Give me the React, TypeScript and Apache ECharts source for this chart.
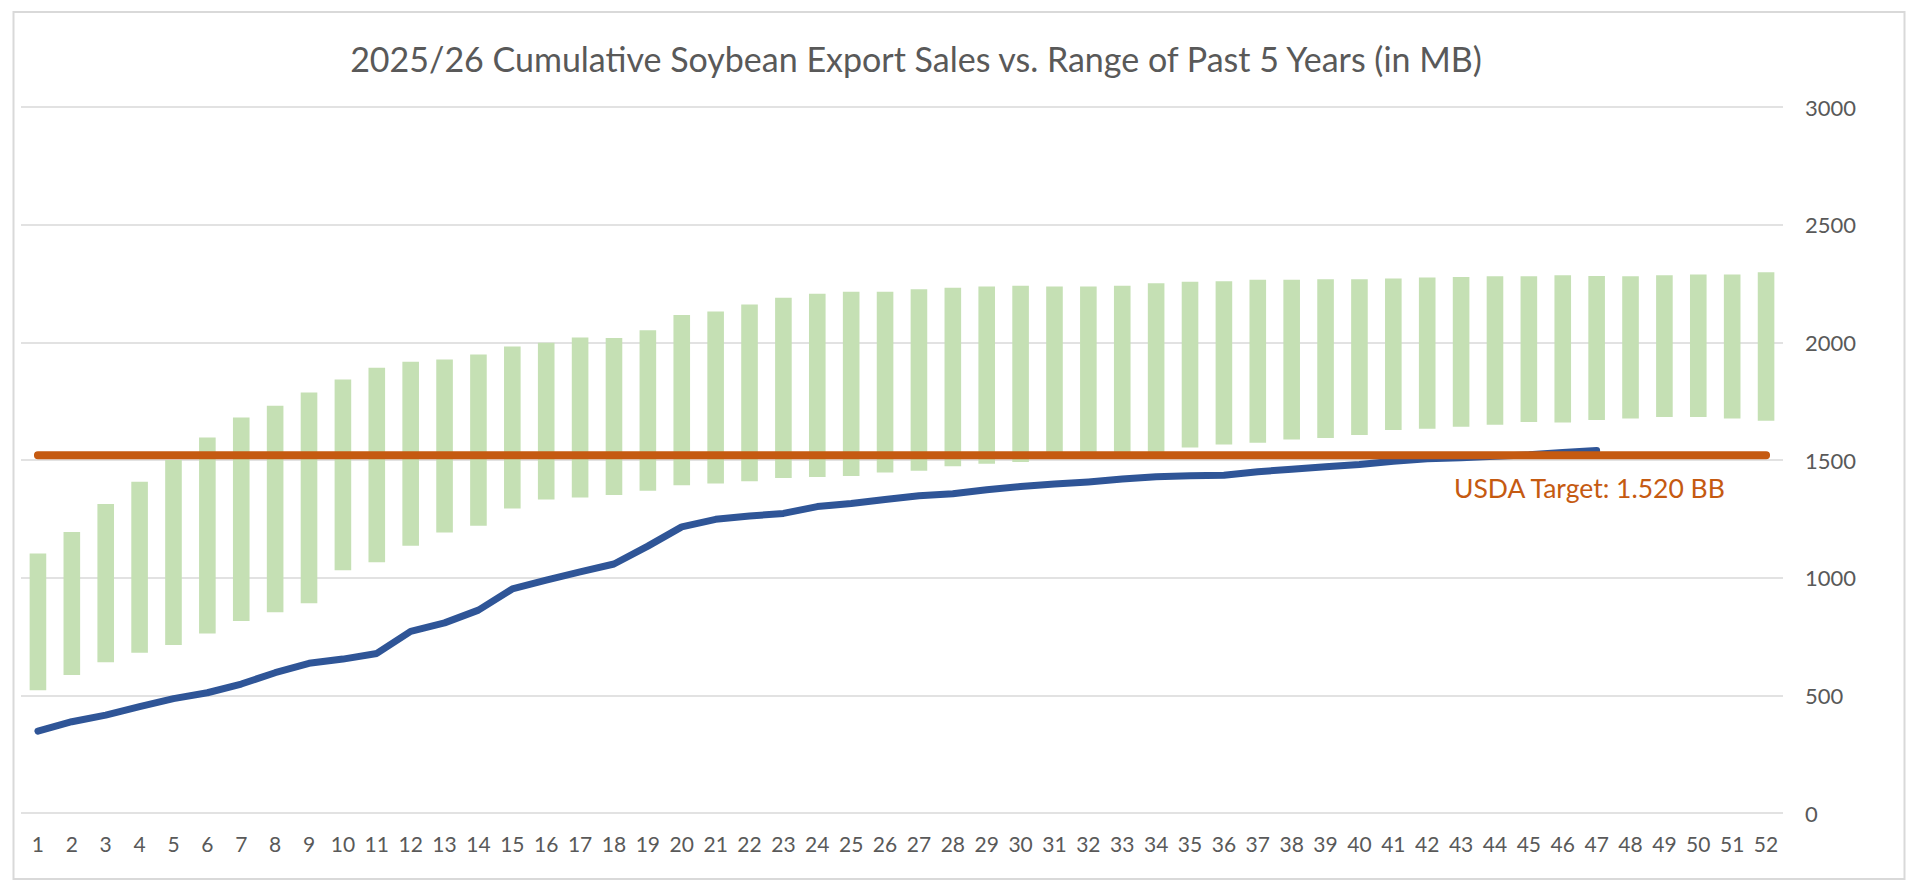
import React, { useEffect, useRef } from "react";
import * as echarts from "echarts";

const weeks: string[] = Array.from({ length: 52 }, (_, i) => String(i + 1));

const rangeLow: number[] = [
  522, 586, 641, 681, 714, 763, 816, 853, 891, 1032,
  1066, 1136, 1192, 1221, 1294, 1332, 1341, 1351, 1369, 1393,
  1400, 1410, 1424, 1428, 1432, 1447, 1454, 1473, 1484, 1491,
  1505, 1510, 1515, 1525, 1553, 1566, 1573, 1587, 1594, 1606,
  1627, 1633, 1641, 1650, 1662, 1659, 1670, 1676, 1683, 1683,
  1676, 1667,
];

const rangeHigh: number[] = [
  1103, 1194, 1313, 1408, 1500, 1596, 1681, 1730, 1787, 1842,
  1892, 1917, 1927, 1948, 1982, 1998, 2021, 2018, 2051, 2116,
  2131, 2161, 2189, 2206, 2215, 2215, 2226, 2232, 2237, 2240,
  2237, 2237, 2240, 2251, 2257, 2260, 2266, 2266, 2268, 2268,
  2271, 2276, 2278, 2281, 2281, 2285, 2282, 2281, 2285, 2288,
  2288, 2298,
];

const sales2526: number[] = [
  348, 388, 416, 452, 486, 511, 548, 596, 636, 654,
  678, 772, 808, 862, 952, 990, 1025, 1058, 1134, 1216,
  1248, 1262, 1273, 1302, 1315, 1332, 1348, 1357, 1374, 1387,
  1398, 1407, 1419, 1429, 1433, 1435, 1450, 1461, 1471, 1481,
  1495, 1505, 1510, 1516, 1522, 1532, 1540,
];

const USDA_TARGET = 1520;
const targetLine: number[] = weeks.map(() => USDA_TARGET);

const TITLE = "2025/26 Cumulative Soybean Export Sales vs. Range of Past 5 Years (in MB)";
const FONT = "Lato, 'Noto Sans', sans-serif";
const TEXT = "#595959";

export default function App() {
  const ref = useRef<HTMLDivElement>(null);
  useEffect(() => {
    if (!ref.current) return;
    const chart = echarts.init(ref.current, null, { renderer: "svg" });
    chart.setOption({
      animation: false,
      backgroundColor: "#ffffff",
      textStyle: { fontFamily: FONT },
      grid: { left: 21, right: 137, top: 107, bottom: 80, containLabel: false },
      xAxis: {
        type: "category",
        data: weeks,
        boundaryGap: true,
        axisLine: { show: false },
        axisTick: { show: false },
        axisLabel: { color: TEXT, fontSize: 21, fontFamily: FONT, margin: 20, interval: 0 },
      },
      yAxis: {
        type: "value",
        position: "right",
        min: 0,
        max: 3000,
        interval: 500,
        axisLine: { show: false },
        axisTick: { show: false },
        splitLine: { lineStyle: { color: "#d9d9d9", width: 1.5 } },
        axisLabel: {
          color: TEXT,
          fontSize: 22,
          fontFamily: FONT,
          margin: 22,
          formatter: (v: number) => String(v),
        },
      },
      graphic: [
        {
          type: "rect",
          shape: { x: 13.5, y: 12, width: 1891, height: 867 },
          style: { fill: "none", stroke: "#d9d9d9", lineWidth: 2 },
          silent: true,
        },
        {
          type: "text",
          x: 916,
          y: 58,
          style: {
            text: TITLE,
            fill: TEXT,
            font: `34px ${FONT}`,
            textAlign: "center",
            textVerticalAlign: "middle",
          },
          silent: true,
        },
        {
          type: "text",
          left: 1454,
          top: 474,
          style: {
            text: "USDA Target: 1.520 BB",
            fill: "#c55a11",
            font: `26.5px ${FONT}`,
          },
          silent: true,
        },
      ],
      series: [
        {
          name: "base",
          type: "bar",
          stack: "range",
          data: rangeLow,
          barWidth: "49%",
          itemStyle: { color: "transparent" },
          silent: true,
          z: 2,
        },
        {
          name: "Range of Past 5 Years",
          type: "bar",
          stack: "range",
          data: rangeHigh.map((h, i) => h - rangeLow[i]),
          barWidth: "49%",
          itemStyle: { color: "#c5e0b4" },
          z: 2,
        },
        {
          name: "2025/26",
          type: "line",
          data: sales2526,
          symbol: "none",
          lineStyle: { color: "#2f5597", width: 7, cap: "round", join: "round" },
          z: 3,
        },
        {
          name: "USDA Target",
          type: "line",
          data: targetLine,
          symbol: "none",
          lineStyle: { color: "#c55a11", width: 8, cap: "round" },
          z: 4,
        },
      ],
    });
    return () => chart.dispose();
  }, []);
  return (
    <div
      ref={ref}
      style={{ position: "fixed", left: 0, top: 0, width: 1920, height: 893 }}
    />
  );
}
